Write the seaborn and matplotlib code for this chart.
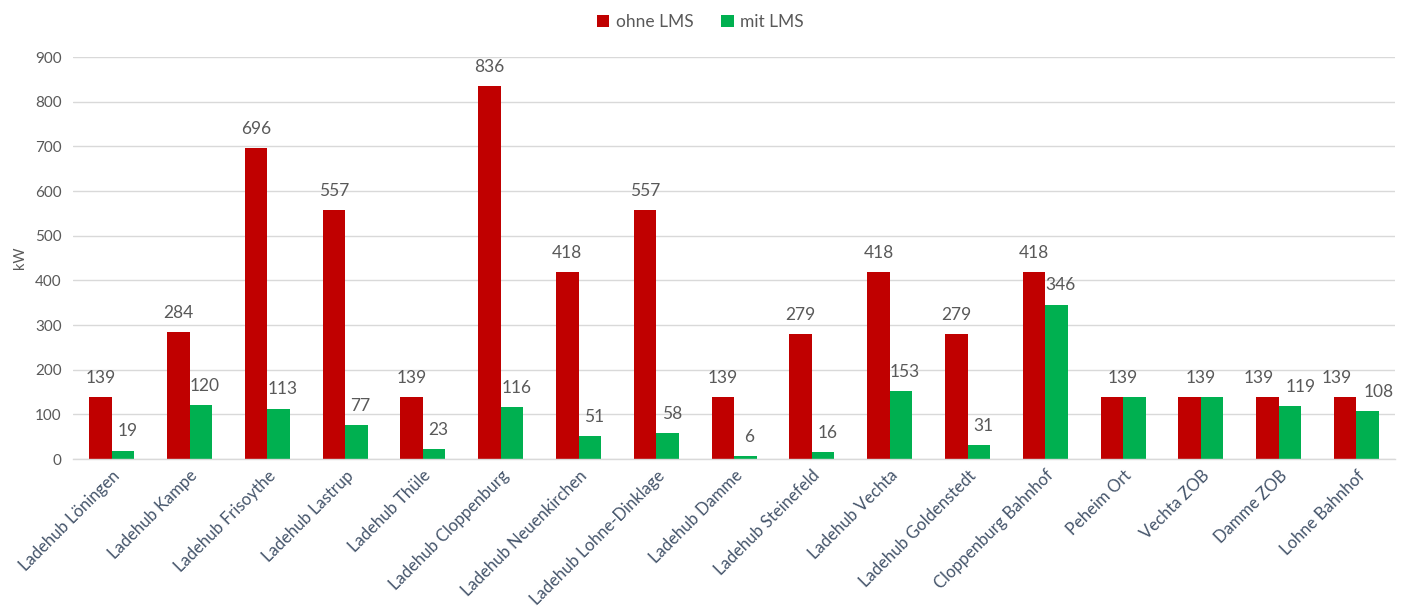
import matplotlib
matplotlib.use("Agg")
import matplotlib.pyplot as plt
import seaborn as sns
import pandas as pd
from matplotlib.patches import Patch

standorte = [
    "Ladehub Löningen", "Ladehub Kampe", "Ladehub Frisoythe", "Ladehub Lastrup",
    "Ladehub Thüle", "Ladehub Cloppenburg", "Ladehub Neuenkirchen",
    "Ladehub Lohne-Dinklage", "Ladehub Damme", "Ladehub Steinefeld",
    "Ladehub Vechta", "Ladehub Goldenstedt", "Cloppenburg Bahnhof",
    "Peheim Ort", "Vechta ZOB", "Damme ZOB", "Lohne Bahnhof",
]
ohne_lms = [139, 284, 696, 557, 139, 836, 418, 557, 139, 279, 418, 279, 418, 139, 139, 139, 139]
mit_lms = [19, 120, 113, 77, 23, 116, 51, 58, 6, 16, 153, 31, 346, 139, 139, 119, 108]
serien = ["ohne LMS", "mit LMS"]
farben = ["#C00000", "#00B050"]

df = pd.DataFrame({
    "Standort": standorte * 2,
    "Serie": [serien[0]] * len(standorte) + [serien[1]] * len(standorte),
    "kW": ohne_lms + mit_lms,
})

sns.set_theme(style="white")
plt.rcParams["font.family"] = ["Lato", "DejaVu Sans"]
text_col = "#595959"

fig = plt.figure(figsize=(14.01, 6.08), dpi=100)
ax = fig.add_axes([0.052, 0.245, 0.944, 0.661])

sns.barplot(data=df, x="Standort", y="kW", hue="Serie", hue_order=serien,
            palette=farben, width=0.58, saturation=1, legend=False, ax=ax,
            edgecolor="none")

ax.set_ylim(0, 900)
ax.set_xlim(-0.5, len(standorte) - 0.5)
ax.set_yticks(range(0, 901, 100))
ax.yaxis.grid(True, color="#D9D9D9", linewidth=1)
ax.set_axisbelow(True)
for s in ["top", "right", "left"]:
    ax.spines[s].set_visible(False)
ax.spines["bottom"].set_color("#D9D9D9")
ax.spines["bottom"].set_linewidth(1)
ax.tick_params(axis="both", length=0)
ax.tick_params(axis="y", labelsize=11, labelcolor=text_col, pad=8)
ax.set_xticks(range(len(standorte)))
ax.set_xticklabels(standorte, rotation=45, ha="right", rotation_mode="anchor",
                   fontsize=12, color="#44546A")
ax.tick_params(axis="x", pad=6)
ax.set_xlabel("")
ax.set_ylabel("kW", fontsize=10.5, color=text_col, labelpad=6)

# value labels above each bar; identical pairs share one centered label,
# pairs of similar height get their labels pushed apart
red_bars, green_bars = ax.containers[0], ax.containers[1]
lab_kw = dict(textcoords="offset points", ha="center", va="bottom",
              fontsize=12.5, color=text_col)
for i, (rb, gb) in enumerate(zip(red_bars, green_bars)):
    rv, gv = ohne_lms[i], mit_lms[i]
    if rv == gv:
        xc = (rb.get_x() + gb.get_x() + gb.get_width()) / 2
        ax.annotate(f"{rv}", (xc, rv), xytext=(0, 8), **lab_kw)
        continue
    r_dx, g_dx = (0, 3) if abs(rv - gv) > 40 else (-6, 8)
    ax.annotate(f"{rv}", (rb.get_x() + rb.get_width() / 2, rv), xytext=(r_dx, 8), **lab_kw)
    ax.annotate(f"{gv}", (gb.get_x() + gb.get_width() / 2, gv), xytext=(g_dx, 8), **lab_kw)

handles = [Patch(facecolor=c, edgecolor="none", label=l) for c, l in zip(farben, serien)]
fig.legend(handles=handles, loc="center", bbox_to_anchor=(0.5, 0.963), ncol=2,
           frameon=False, fontsize=12.5, labelcolor=text_col, handlelength=0.7,
           handleheight=0.7, handletextpad=0.4, columnspacing=1.6)

fig.savefig("out.png", dpi=100)
